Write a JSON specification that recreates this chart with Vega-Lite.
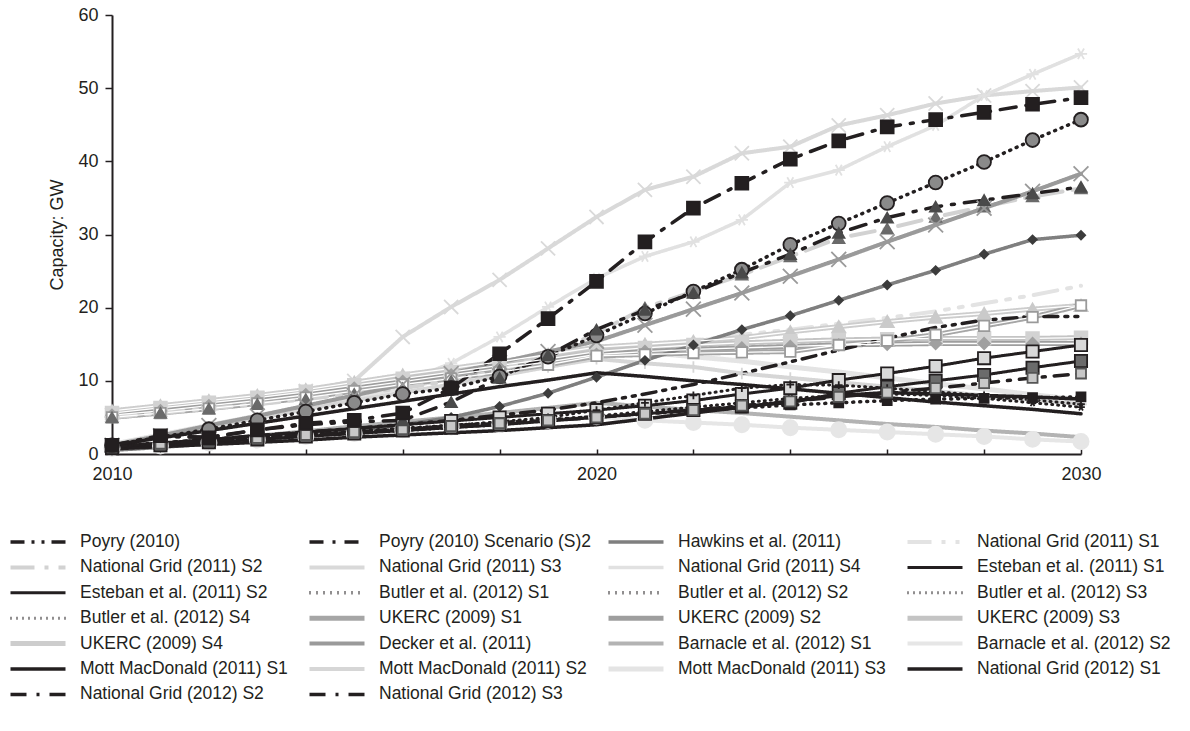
{
"$schema":"https://vega.github.io/schema/vega-lite/v6.json",
"width":969,"height":439,
"autosize":{"type":"none"},
"padding":{"left":112,"top":15,"right":109,"bottom":277},
"background":"white",
"config":{"view":{"stroke":null},"font":"Liberation Sans"},
"datasets":{"rows":[
{"k":"f","y":2010,"v":5.3},{"k":"f","y":2011,"v":6.0},{"k":"f","y":2012,"v":6.8},{"k":"f","y":2013,"v":7.6},{"k":"f","y":2014,"v":8.6},{"k":"f","y":2015,"v":10.0},{"k":"f","y":2016,"v":16.0},{"k":"f","y":2017,"v":20.1},{"k":"f","y":2018,"v":23.8},{"k":"f","y":2019,"v":28.1},{"k":"f","y":2020,"v":32.4},{"k":"f","y":2021,"v":36.1},{"k":"f","y":2022,"v":37.9},{"k":"f","y":2023,"v":41.1},{"k":"f","y":2024,"v":42.0},{"k":"f","y":2025,"v":44.9},{"k":"f","y":2026,"v":46.3},{"k":"f","y":2027,"v":47.9},{"k":"f","y":2028,"v":49.0},{"k":"f","y":2029,"v":49.6},{"k":"f","y":2030,"v":50.1},
{"k":"g","y":2010,"v":5.0},{"k":"g","y":2011,"v":5.6},{"k":"g","y":2012,"v":6.2},{"k":"g","y":2013,"v":6.9},{"k":"g","y":2014,"v":7.7},{"k":"g","y":2015,"v":8.6},{"k":"g","y":2016,"v":9.8},{"k":"g","y":2017,"v":12.4},{"k":"g","y":2018,"v":16.0},{"k":"g","y":2019,"v":20.1},{"k":"g","y":2020,"v":24.0},{"k":"g","y":2021,"v":27.0},{"k":"g","y":2022,"v":29.0},{"k":"g","y":2023,"v":32.0},{"k":"g","y":2024,"v":37.1},{"k":"g","y":2025,"v":38.8},{"k":"g","y":2026,"v":42.0},{"k":"g","y":2027,"v":44.9},{"k":"g","y":2028,"v":49.0},{"k":"g","y":2029,"v":51.9},{"k":"g","y":2030,"v":54.7},
{"k":"d","y":2010,"v":5.0},{"k":"d","y":2011,"v":5.8},{"k":"d","y":2012,"v":6.6},{"k":"d","y":2013,"v":7.4},{"k":"d","y":2014,"v":8.2},{"k":"d","y":2015,"v":9.0},{"k":"d","y":2016,"v":10.0},{"k":"d","y":2017,"v":11.0},{"k":"d","y":2018,"v":12.0},{"k":"d","y":2019,"v":13.0},{"k":"d","y":2020,"v":14.0},{"k":"d","y":2021,"v":14.8},{"k":"d","y":2022,"v":15.5},{"k":"d","y":2023,"v":16.3},{"k":"d","y":2024,"v":17.0},{"k":"d","y":2025,"v":17.8},{"k":"d","y":2026,"v":18.6},{"k":"d","y":2027,"v":19.5},{"k":"d","y":2028,"v":20.6},{"k":"d","y":2029,"v":21.7},{"k":"d","y":2030,"v":23.0},
{"k":"w","y":2010,"v":1.3},{"k":"w","y":2011,"v":2.6},{"k":"w","y":2012,"v":3.9},{"k":"w","y":2013,"v":5.2},{"k":"w","y":2014,"v":6.5},{"k":"w","y":2015,"v":7.8},{"k":"w","y":2016,"v":9.1},{"k":"w","y":2017,"v":10.4},{"k":"w","y":2018,"v":11.7},{"k":"w","y":2019,"v":13.0},{"k":"w","y":2020,"v":14.5},{"k":"w","y":2021,"v":13.9},{"k":"w","y":2022,"v":13.3},{"k":"w","y":2023,"v":12.7},{"k":"w","y":2024,"v":11.9},{"k":"w","y":2025,"v":11.2},{"k":"w","y":2026,"v":10.4},{"k":"w","y":2027,"v":9.6},{"k":"w","y":2028,"v":8.9},{"k":"w","y":2029,"v":8.1},{"k":"w","y":2030,"v":7.4},
{"k":"t","y":2010,"v":0.8},{"k":"t","y":2011,"v":1.1},{"k":"t","y":2012,"v":1.5},{"k":"t","y":2013,"v":1.9},{"k":"t","y":2014,"v":2.4},{"k":"t","y":2015,"v":2.8},{"k":"t","y":2016,"v":3.3},{"k":"t","y":2017,"v":3.7},{"k":"t","y":2018,"v":4.0},{"k":"t","y":2019,"v":4.6},{"k":"t","y":2020,"v":5.1},{"k":"t","y":2021,"v":4.6},{"k":"t","y":2022,"v":4.3},{"k":"t","y":2023,"v":4.0},{"k":"t","y":2024,"v":3.6},{"k":"t","y":2025,"v":3.3},{"k":"t","y":2026,"v":3.0},{"k":"t","y":2027,"v":2.7},{"k":"t","y":2028,"v":2.4},{"k":"t","y":2029,"v":2.0},{"k":"t","y":2030,"v":1.7},
{"k":"v","y":2010,"v":1.3},{"k":"v","y":2011,"v":2.5},{"k":"v","y":2012,"v":3.7},{"k":"v","y":2013,"v":4.9},{"k":"v","y":2014,"v":6.1},{"k":"v","y":2015,"v":7.3},{"k":"v","y":2016,"v":8.4},{"k":"v","y":2017,"v":9.5},{"k":"v","y":2018,"v":10.7},{"k":"v","y":2019,"v":11.9},{"k":"v","y":2020,"v":13.0},{"k":"v","y":2021,"v":12.4},{"k":"v","y":2022,"v":11.9},{"k":"v","y":2023,"v":11.0},{"k":"v","y":2024,"v":10.4},{"k":"v","y":2025,"v":9.8},{"k":"v","y":2026,"v":9.2},{"k":"v","y":2027,"v":8.6},{"k":"v","y":2028,"v":8.0},{"k":"v","y":2029,"v":7.4},{"k":"v","y":2030,"v":6.8},
{"k":"q","y":2010,"v":5.9},{"k":"q","y":2011,"v":6.6},{"k":"q","y":2012,"v":7.3},{"k":"q","y":2013,"v":8.0},{"k":"q","y":2014,"v":8.8},{"k":"q","y":2015,"v":9.8},{"k":"q","y":2016,"v":10.8},{"k":"q","y":2017,"v":11.7},{"k":"q","y":2018,"v":12.6},{"k":"q","y":2019,"v":13.6},{"k":"q","y":2020,"v":14.6},{"k":"q","y":2021,"v":15.0},{"k":"q","y":2022,"v":15.4},{"k":"q","y":2023,"v":15.9},{"k":"q","y":2024,"v":16.7},{"k":"q","y":2025,"v":17.4},{"k":"q","y":2026,"v":18.1},{"k":"q","y":2027,"v":18.7},{"k":"q","y":2028,"v":19.2},{"k":"q","y":2029,"v":19.8},{"k":"q","y":2030,"v":20.3},
{"k":"p","y":2010,"v":5.6},{"k":"p","y":2011,"v":6.3},{"k":"p","y":2012,"v":7.0},{"k":"p","y":2013,"v":7.7},{"k":"p","y":2014,"v":8.5},{"k":"p","y":2015,"v":9.4},{"k":"p","y":2016,"v":10.3},{"k":"p","y":2017,"v":11.2},{"k":"p","y":2018,"v":12.1},{"k":"p","y":2019,"v":13.0},{"k":"p","y":2020,"v":14.0},{"k":"p","y":2021,"v":14.5},{"k":"p","y":2022,"v":14.9},{"k":"p","y":2023,"v":15.2},{"k":"p","y":2024,"v":15.4},{"k":"p","y":2025,"v":15.6},{"k":"p","y":2026,"v":15.7},{"k":"p","y":2027,"v":15.8},{"k":"p","y":2028,"v":15.8},{"k":"p","y":2029,"v":15.8},{"k":"p","y":2030,"v":15.9},
{"k":"o","y":2010,"v":5.3},{"k":"o","y":2011,"v":5.9},{"k":"o","y":2012,"v":6.6},{"k":"o","y":2013,"v":7.3},{"k":"o","y":2014,"v":8.1},{"k":"o","y":2015,"v":9.0},{"k":"o","y":2016,"v":9.9},{"k":"o","y":2017,"v":10.8},{"k":"o","y":2018,"v":11.7},{"k":"o","y":2019,"v":12.6},{"k":"o","y":2020,"v":13.6},{"k":"o","y":2021,"v":14.0},{"k":"o","y":2022,"v":14.3},{"k":"o","y":2023,"v":14.5},{"k":"o","y":2024,"v":14.7},{"k":"o","y":2025,"v":14.9},{"k":"o","y":2026,"v":15.0},{"k":"o","y":2027,"v":15.1},{"k":"o","y":2028,"v":15.1},{"k":"o","y":2029,"v":15.1},{"k":"o","y":2030,"v":15.1},
{"k":"n","y":2010,"v":5.0},{"k":"n","y":2011,"v":5.6},{"k":"n","y":2012,"v":6.2},{"k":"n","y":2013,"v":6.9},{"k":"n","y":2014,"v":7.7},{"k":"n","y":2015,"v":8.6},{"k":"n","y":2016,"v":9.5},{"k":"n","y":2017,"v":10.3},{"k":"n","y":2018,"v":11.2},{"k":"n","y":2019,"v":12.2},{"k":"n","y":2020,"v":13.4},{"k":"n","y":2021,"v":13.6},{"k":"n","y":2022,"v":13.8},{"k":"n","y":2023,"v":13.9},{"k":"n","y":2024,"v":14.0},{"k":"n","y":2025,"v":14.9},{"k":"n","y":2026,"v":15.5},{"k":"n","y":2027,"v":16.3},{"k":"n","y":2028,"v":17.5},{"k":"n","y":2029,"v":18.7},{"k":"n","y":2030,"v":20.3},
{"k":"e","y":2010,"v":5.0},{"k":"e","y":2011,"v":5.6},{"k":"e","y":2012,"v":6.2},{"k":"e","y":2013,"v":6.8},{"k":"e","y":2014,"v":7.5},{"k":"e","y":2015,"v":8.2},{"k":"e","y":2016,"v":9.0},{"k":"e","y":2017,"v":10.0},{"k":"e","y":2018,"v":11.5},{"k":"e","y":2019,"v":13.5},{"k":"e","y":2020,"v":16.5},{"k":"e","y":2021,"v":20.0},{"k":"e","y":2022,"v":22.2},{"k":"e","y":2023,"v":24.5},{"k":"e","y":2024,"v":27.0},{"k":"e","y":2025,"v":29.5},{"k":"e","y":2026,"v":30.8},{"k":"e","y":2027,"v":32.4},{"k":"e","y":2028,"v":33.8},{"k":"e","y":2029,"v":35.2},{"k":"e","y":2030,"v":36.3},
{"k":"s","y":2010,"v":0.7},{"k":"s","y":2011,"v":1.3},{"k":"s","y":2012,"v":1.9},{"k":"s","y":2013,"v":2.5},{"k":"s","y":2014,"v":3.1},{"k":"s","y":2015,"v":3.8},{"k":"s","y":2016,"v":4.4},{"k":"s","y":2017,"v":5.0},{"k":"s","y":2018,"v":5.6},{"k":"s","y":2019,"v":6.3},{"k":"s","y":2020,"v":7.0},{"k":"s","y":2021,"v":6.5},{"k":"s","y":2022,"v":6.0},{"k":"s","y":2023,"v":5.6},{"k":"s","y":2024,"v":5.1},{"k":"s","y":2025,"v":4.6},{"k":"s","y":2026,"v":4.1},{"k":"s","y":2027,"v":3.7},{"k":"s","y":2028,"v":3.2},{"k":"s","y":2029,"v":2.8},{"k":"s","y":2030,"v":2.3},
{"k":"r","y":2010,"v":1.2},{"k":"r","y":2011,"v":2.5},{"k":"r","y":2012,"v":3.9},{"k":"r","y":2013,"v":5.2},{"k":"r","y":2014,"v":6.6},{"k":"r","y":2015,"v":8.0},{"k":"r","y":2016,"v":9.5},{"k":"r","y":2017,"v":11.0},{"k":"r","y":2018,"v":12.5},{"k":"r","y":2019,"v":14.0},{"k":"r","y":2020,"v":15.4},{"k":"r","y":2021,"v":17.6},{"k":"r","y":2022,"v":19.8},{"k":"r","y":2023,"v":22.0},{"k":"r","y":2024,"v":24.3},{"k":"r","y":2025,"v":26.6},{"k":"r","y":2026,"v":29.0},{"k":"r","y":2027,"v":31.3},{"k":"r","y":2028,"v":33.6},{"k":"r","y":2029,"v":35.9},{"k":"r","y":2030,"v":38.3},
{"k":"c","y":2010,"v":0.5},{"k":"c","y":2011,"v":0.9},{"k":"c","y":2012,"v":1.4},{"k":"c","y":2013,"v":1.9},{"k":"c","y":2014,"v":2.5},{"k":"c","y":2015,"v":3.2},{"k":"c","y":2016,"v":4.0},{"k":"c","y":2017,"v":5.0},{"k":"c","y":2018,"v":6.5},{"k":"c","y":2019,"v":8.3},{"k":"c","y":2020,"v":10.5},{"k":"c","y":2021,"v":12.8},{"k":"c","y":2022,"v":14.9},{"k":"c","y":2023,"v":17.0},{"k":"c","y":2024,"v":18.9},{"k":"c","y":2025,"v":21.0},{"k":"c","y":2026,"v":23.1},{"k":"c","y":2027,"v":25.1},{"k":"c","y":2028,"v":27.3},{"k":"c","y":2029,"v":29.3},{"k":"c","y":2030,"v":29.9},
{"k":"u","y":2010,"v":1.2},{"k":"u","y":2011,"v":2.2},{"k":"u","y":2012,"v":3.2},{"k":"u","y":2013,"v":4.2},{"k":"u","y":2014,"v":5.2},{"k":"u","y":2015,"v":6.2},{"k":"u","y":2016,"v":7.2},{"k":"u","y":2017,"v":8.2},{"k":"u","y":2018,"v":9.2},{"k":"u","y":2019,"v":10.1},{"k":"u","y":2020,"v":11.1},{"k":"u","y":2021,"v":10.6},{"k":"u","y":2022,"v":10.0},{"k":"u","y":2023,"v":9.5},{"k":"u","y":2024,"v":8.9},{"k":"u","y":2025,"v":8.3},{"k":"u","y":2026,"v":7.7},{"k":"u","y":2027,"v":7.1},{"k":"u","y":2028,"v":6.6},{"k":"u","y":2029,"v":6.1},{"k":"u","y":2030,"v":5.5},
{"k":"x","y":2010,"v":0.7},{"k":"x","y":2011,"v":1.0},{"k":"x","y":2012,"v":1.3},{"k":"x","y":2013,"v":1.6},{"k":"x","y":2014,"v":1.9},{"k":"x","y":2015,"v":2.3},{"k":"x","y":2016,"v":2.6},{"k":"x","y":2017,"v":2.9},{"k":"x","y":2018,"v":3.2},{"k":"x","y":2019,"v":3.6},{"k":"x","y":2020,"v":4.0},{"k":"x","y":2021,"v":4.8},{"k":"x","y":2022,"v":5.6},{"k":"x","y":2023,"v":6.4},{"k":"x","y":2024,"v":7.2},{"k":"x","y":2025,"v":8.0},{"k":"x","y":2026,"v":8.4},{"k":"x","y":2027,"v":8.2},{"k":"x","y":2028,"v":8.0},{"k":"x","y":2029,"v":7.8},{"k":"x","y":2030,"v":7.5},
{"k":"h","y":2010,"v":1.0},{"k":"h","y":2011,"v":1.5},{"k":"h","y":2012,"v":2.0},{"k":"h","y":2013,"v":2.5},{"k":"h","y":2014,"v":3.0},{"k":"h","y":2015,"v":3.5},{"k":"h","y":2016,"v":4.0},{"k":"h","y":2017,"v":4.5},{"k":"h","y":2018,"v":5.0},{"k":"h","y":2019,"v":5.5},{"k":"h","y":2020,"v":6.0},{"k":"h","y":2021,"v":6.6},{"k":"h","y":2022,"v":7.3},{"k":"h","y":2023,"v":8.2},{"k":"h","y":2024,"v":9.0},{"k":"h","y":2025,"v":10.1},{"k":"h","y":2026,"v":11.0},{"k":"h","y":2027,"v":12.0},{"k":"h","y":2028,"v":13.1},{"k":"h","y":2029,"v":14.0},{"k":"h","y":2030,"v":14.9},
{"k":"i","y":2010,"v":0.8},{"k":"i","y":2011,"v":1.2},{"k":"i","y":2012,"v":1.6},{"k":"i","y":2013,"v":2.0},{"k":"i","y":2014,"v":2.4},{"k":"i","y":2015,"v":2.8},{"k":"i","y":2016,"v":3.2},{"k":"i","y":2017,"v":3.6},{"k":"i","y":2018,"v":4.0},{"k":"i","y":2019,"v":4.5},{"k":"i","y":2020,"v":5.0},{"k":"i","y":2021,"v":5.5},{"k":"i","y":2022,"v":6.0},{"k":"i","y":2023,"v":6.5},{"k":"i","y":2024,"v":7.0},{"k":"i","y":2025,"v":8.3},{"k":"i","y":2026,"v":9.2},{"k":"i","y":2027,"v":10.0},{"k":"i","y":2028,"v":10.8},{"k":"i","y":2029,"v":11.8},{"k":"i","y":2030,"v":12.7},
{"k":"j","y":2010,"v":1.2},{"k":"j","y":2011,"v":1.5},{"k":"j","y":2012,"v":1.9},{"k":"j","y":2013,"v":2.3},{"k":"j","y":2014,"v":2.7},{"k":"j","y":2015,"v":3.1},{"k":"j","y":2016,"v":3.5},{"k":"j","y":2017,"v":3.9},{"k":"j","y":2018,"v":4.3},{"k":"j","y":2019,"v":4.7},{"k":"j","y":2020,"v":5.1},{"k":"j","y":2021,"v":5.5},{"k":"j","y":2022,"v":5.9},{"k":"j","y":2023,"v":6.3},{"k":"j","y":2024,"v":6.7},{"k":"j","y":2025,"v":7.0},{"k":"j","y":2026,"v":7.3},{"k":"j","y":2027,"v":7.5},{"k":"j","y":2028,"v":7.6},{"k":"j","y":2029,"v":7.7},{"k":"j","y":2030,"v":7.8},
{"k":"l","y":2010,"v":1.0},{"k":"l","y":2011,"v":1.4},{"k":"l","y":2012,"v":1.8},{"k":"l","y":2013,"v":2.2},{"k":"l","y":2014,"v":2.6},{"k":"l","y":2015,"v":3.0},{"k":"l","y":2016,"v":3.4},{"k":"l","y":2017,"v":3.9},{"k":"l","y":2018,"v":4.4},{"k":"l","y":2019,"v":5.0},{"k":"l","y":2020,"v":6.0},{"k":"l","y":2021,"v":7.0},{"k":"l","y":2022,"v":8.0},{"k":"l","y":2023,"v":9.0},{"k":"l","y":2024,"v":9.5},{"k":"l","y":2025,"v":9.4},{"k":"l","y":2026,"v":9.0},{"k":"l","y":2027,"v":8.5},{"k":"l","y":2028,"v":8.0},{"k":"l","y":2029,"v":7.4},{"k":"l","y":2030,"v":6.8},
{"k":"m","y":2010,"v":1.0},{"k":"m","y":2011,"v":1.3},{"k":"m","y":2012,"v":1.6},{"k":"m","y":2013,"v":2.0},{"k":"m","y":2014,"v":2.4},{"k":"m","y":2015,"v":2.8},{"k":"m","y":2016,"v":3.2},{"k":"m","y":2017,"v":3.6},{"k":"m","y":2018,"v":4.0},{"k":"m","y":2019,"v":4.6},{"k":"m","y":2020,"v":5.2},{"k":"m","y":2021,"v":5.8},{"k":"m","y":2022,"v":6.4},{"k":"m","y":2023,"v":7.0},{"k":"m","y":2024,"v":7.6},{"k":"m","y":2025,"v":8.0},{"k":"m","y":2026,"v":8.2},{"k":"m","y":2027,"v":8.0},{"k":"m","y":2028,"v":7.6},{"k":"m","y":2029,"v":7.0},{"k":"m","y":2030,"v":6.4},
{"k":"k","y":2010,"v":1.2},{"k":"k","y":2011,"v":2.3},{"k":"k","y":2012,"v":3.4},{"k":"k","y":2013,"v":4.6},{"k":"k","y":2014,"v":5.8},{"k":"k","y":2015,"v":7.0},{"k":"k","y":2016,"v":8.2},{"k":"k","y":2017,"v":9.0},{"k":"k","y":2018,"v":10.6},{"k":"k","y":2019,"v":13.3},{"k":"k","y":2020,"v":16.2},{"k":"k","y":2021,"v":19.2},{"k":"k","y":2022,"v":22.2},{"k":"k","y":2023,"v":25.2},{"k":"k","y":2024,"v":28.6},{"k":"k","y":2025,"v":31.5},{"k":"k","y":2026,"v":34.3},{"k":"k","y":2027,"v":37.1},{"k":"k","y":2028,"v":39.9},{"k":"k","y":2029,"v":42.9},{"k":"k","y":2030,"v":45.7},
{"k":"a","y":2010,"v":1.0},{"k":"a","y":2011,"v":1.5},{"k":"a","y":2012,"v":2.0},{"k":"a","y":2013,"v":2.5},{"k":"a","y":2014,"v":3.0},{"k":"a","y":2015,"v":3.5},{"k":"a","y":2016,"v":4.0},{"k":"a","y":2017,"v":4.6},{"k":"a","y":2018,"v":5.3},{"k":"a","y":2019,"v":6.0},{"k":"a","y":2020,"v":7.0},{"k":"a","y":2021,"v":8.2},{"k":"a","y":2022,"v":9.5},{"k":"a","y":2023,"v":11.0},{"k":"a","y":2024,"v":12.6},{"k":"a","y":2025,"v":14.2},{"k":"a","y":2026,"v":15.8},{"k":"a","y":2027,"v":17.3},{"k":"a","y":2028,"v":18.3},{"k":"a","y":2029,"v":18.8},{"k":"a","y":2030,"v":18.8},
{"k":"b","y":2010,"v":1.0},{"k":"b","y":2011,"v":1.4},{"k":"b","y":2012,"v":1.8},{"k":"b","y":2013,"v":2.2},{"k":"b","y":2014,"v":2.6},{"k":"b","y":2015,"v":3.0},{"k":"b","y":2016,"v":3.4},{"k":"b","y":2017,"v":3.8},{"k":"b","y":2018,"v":4.2},{"k":"b","y":2019,"v":4.6},{"k":"b","y":2020,"v":5.0},{"k":"b","y":2021,"v":5.5},{"k":"b","y":2022,"v":6.0},{"k":"b","y":2023,"v":6.6},{"k":"b","y":2024,"v":7.2},{"k":"b","y":2025,"v":7.8},{"k":"b","y":2026,"v":8.4},{"k":"b","y":2027,"v":9.0},{"k":"b","y":2028,"v":9.7},{"k":"b","y":2029,"v":10.4},{"k":"b","y":2030,"v":11.0},
{"k":"y","y":2010,"v":1.2},{"k":"y","y":2011,"v":2.4},{"k":"y","y":2012,"v":2.3},{"k":"y","y":2013,"v":3.3},{"k":"y","y":2014,"v":4.0},{"k":"y","y":2015,"v":4.4},{"k":"y","y":2016,"v":4.6},{"k":"y","y":2017,"v":7.1},{"k":"y","y":2018,"v":10.4},{"k":"y","y":2019,"v":13.5},{"k":"y","y":2020,"v":17.0},{"k":"y","y":2021,"v":19.7},{"k":"y","y":2022,"v":22.0},{"k":"y","y":2023,"v":24.8},{"k":"y","y":2024,"v":27.3},{"k":"y","y":2025,"v":30.2},{"k":"y","y":2026,"v":32.3},{"k":"y","y":2027,"v":33.8},{"k":"y","y":2028,"v":34.7},{"k":"y","y":2029,"v":35.6},{"k":"y","y":2030,"v":36.5},
{"k":"z","y":2010,"v":1.2},{"k":"z","y":2011,"v":2.5},{"k":"z","y":2012,"v":2.2},{"k":"z","y":2013,"v":3.3},{"k":"z","y":2014,"v":4.2},{"k":"z","y":2015,"v":4.6},{"k":"z","y":2016,"v":5.6},{"k":"z","y":2017,"v":9.0},{"k":"z","y":2018,"v":13.7},{"k":"z","y":2019,"v":18.5},{"k":"z","y":2020,"v":23.6},{"k":"z","y":2021,"v":29.0},{"k":"z","y":2022,"v":33.6},{"k":"z","y":2023,"v":37.0},{"k":"z","y":2024,"v":40.3},{"k":"z","y":2025,"v":42.8},{"k":"z","y":2026,"v":44.7},{"k":"z","y":2027,"v":45.7},{"k":"z","y":2028,"v":46.7},{"k":"z","y":2029,"v":47.8},{"k":"z","y":2030,"v":48.7}
]},
"data":{"name":"rows"},
"encoding":{
 "x":{"field":"y","type":"quantitative","scale":{"domain":[2010,2030],"nice":false,"zero":false},
  "axis":{"title":null,"values":[2010,2012,2014,2016,2018,2020,2022,2024,2026,2028,2030],"format":"d","labelExpr":"datum.value % 10 === 0 ? datum.label : ''","grid":false,"tickSize":-5,"tickWidth":1.5,"tickColor":"#231f20","domainColor":"#231f20","domainWidth":2,"labelFontSize":18,"labelColor":"#231f20","labelFont":"Liberation Sans","labelPadding":16,"labelFlush":false,"labelOverlap":false}},
 "y":{"field":"v","type":"quantitative","scale":{"domain":[0,60],"nice":false},
  "axis":{"title":"Capacity: GW","values":[0,10,20,30,40,50,60],"grid":false,"tickSize":7,"tickWidth":1.5,"tickColor":"#231f20","domainColor":"#231f20","domainWidth":2,"labelFontSize":18,"labelColor":"#231f20","labelFont":"Liberation Sans","labelPadding":7,"labelFlush":false,"titleFont":"Liberation Sans","titleFontSize":18,"titleFontWeight":"normal","titleColor":"#231f20","titlePadding":11}}
},
"layer":[
 {"mark":{"type":"line","strokeCap":"round","strokeJoin":"round"},
  "encoding":{
   "color":{"field":"k","type":"nominal",
    "scale":{"domain":["a","b","c","d","e","f","g","h","i","j","k","l","m","n","o","p","q","r","s","t","u","v","w","x","y","z"],
     "range":["#231f20","#231f20","#7f7f7f","#e3e3e3","#d2d2d2","#d9d9d9","#e1e1e1","#231f20","#231f20","#231f20","#231f20","#231f20","#231f20","#a6a6a6","#9e9e9e","#c4c4c4","#cdcdcd","#9a9a9a","#b3b3b3","#e6e6e6","#231f20","#d6d6d6","#e4e4e4","#231f20","#231f20","#231f20"]},
    "legend":{"title":null,"orient":"none","legendX":-104,"legendY":518,"columns":4,"direction":"horizontal","symbolType":"stroke","symbolSize":3025,"clipHeight":18,"labelFontSize":17.5,"labelFont":"Liberation Sans","labelColor":"#231f20","labelOffset":12,"labelLimit":320,"columnPadding":14,"rowPadding":7.4,"gridAlign":"all","padding":0,
     "labelExpr":"{'a':'Poyry (2010)','b':'Poyry (2010) Scenario (S)2','c':'Hawkins et al. (2011)','d':'National Grid (2011) S1','e':'National Grid (2011) S2','f':'National Grid (2011) S3','g':'National Grid (2011) S4','h':'Esteban et al. (2011) S1','i':'Esteban et al. (2011) S2','j':'Butler et al. (2012) S1','k':'Butler et al. (2012) S2','l':'Butler et al. (2012) S3','m':'Butler et al. (2012) S4','n':'UKERC (2009) S1','o':'UKERC (2009) S2','p':'UKERC (2009) S3','q':'UKERC (2009) S4','r':'Decker et al. (2011)','s':'Barnacle et al. (2012) S1','t':'Barnacle et al. (2012) S2','u':'Mott MacDonald (2011) S1','v':'Mott MacDonald (2011) S2','w':'Mott MacDonald (2011) S3','x':'National Grid (2012) S1','y':'National Grid (2012) S2','z':'National Grid (2012) S3'}[datum.label]"}},
   "strokeDash":{"field":"k","type":"nominal",
    "scale":{"domain":["a","b","c","d","e","f","g","h","i","j","k","l","m","n","o","p","q","r","s","t","u","v","w","x","y","z"],
     "range":[[14,7,3,7,3,7],[14,9,3,9],[1,0],[24,10,4,10,4,10],[24,10,4,10],[1,0],[1,0],[1,0],[1,0],[1,6],[1,6],[1,5],[1,5],[1,0],[1,0],[1,0],[1,0],[1,0],[1,0],[1,0],[1,0],[1,0],[1,0],[1,0],[16,10,3,10],[16,10,3,10]]}},
   "strokeWidth":{"field":"k","type":"nominal",
    "scale":{"type":"ordinal","domain":["a","b","c","d","e","f","g","h","i","j","k","l","m","n","o","p","q","r","s","t","u","v","w","x","y","z"],
     "range":[3.5,3.5,3.5,4,4,4,3.5,3,3,3.5,3.5,3,3,5,5,5,5,4,4,4,3.5,4,5,3.5,3.5,3.5]}}
  }},
 {"transform":[{"filter":{"field":"k","oneOf":["n","o","p","q"]}}],
  "mark":{"type":"line","stroke":"white","strokeWidth":1.3},
  "encoding":{"detail":{"field":"k","type":"nominal"}}},
 {"transform":[{"filter":{"field":"k","oneOf":["b","c","e","f","g","h","i","j","k","l","m","n","o","p","q","r","t","v","y","z"]}}],
  "mark":{"type":"point","opacity":1,"strokeWidth":1.8},
  "encoding":{
   "shape":{"field":"k","type":"nominal","legend":null,
    "scale":{"domain":["b","c","e","f","g","h","i","j","k","l","m","n","o","p","q","r","t","v","y","z"],
     "range":["square","diamond","triangle-up","M-1,-1L1,1M-1,1L1,-1","M-1,0L1,0M-0.5,-0.87L0.5,0.87M-0.5,0.87L0.5,-0.87","square","square","square","circle","M-1,0L1,0M0,-1L0,1","M-1,0L1,0M-0.5,-0.87L0.5,0.87M-0.5,0.87L0.5,-0.87","square","diamond","square","triangle-up","M-1,-1L1,1M-1,1L1,-1","circle","M-1,0L1,0M0,-1L0,1","triangle-up","square"]}},
   "fill":{"field":"k","type":"nominal","legend":null,
    "scale":{"domain":["b","c","e","f","g","h","i","j","k","l","m","n","o","p","q","r","t","v","y","z"],
     "range":["#c8c8c8","#3c3c3c","#6a6a6a","transparent","transparent","#d9d9d9","#6b6b6b","#231f20","#8a8a8a","transparent","transparent","#ffffff","#a0a0a0","#d2d2d2","#cacaca","transparent","#e6e6e6","transparent","#4a4a4a","#231f20"]}},
   "stroke":{"field":"k","type":"nominal","legend":null,
    "scale":{"domain":["b","c","e","f","g","h","i","j","k","l","m","n","o","p","q","r","t","v","y","z"],
     "range":["#555555","#3c3c3c","#6a6a6a","#d9d9d9","#e1e1e1","#231f20","#231f20","#231f20","#231f20","#231f20","#231f20","#9a9a9a","#a0a0a0","#d2d2d2","#cacaca","#9a9a9a","#e6e6e6","#d6d6d6","#4a4a4a","#231f20"]}},
   "size":{"field":"k","type":"nominal","legend":null,
    "scale":{"type":"ordinal","domain":["b","c","e","f","g","h","i","j","k","l","m","n","o","p","q","r","t","v","y","z"],
     "range":[100,70,130,200,150,150,150,80,190,60,60,110,130,160,170,220,230,130,130,165]}}
  }}
]
}
